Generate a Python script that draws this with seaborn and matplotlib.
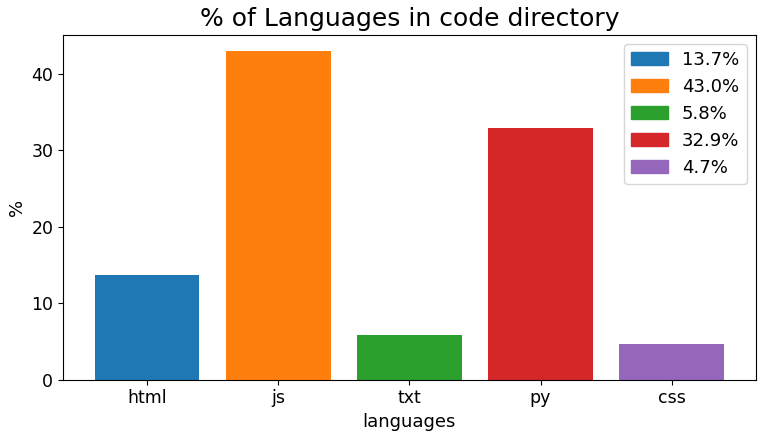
import pandas as pd
import matplotlib
matplotlib.use("Agg")
import matplotlib.pyplot as plt
import seaborn as sns

# data
languages = ["html", "js", "txt", "py", "css"]
percents = [13.7, 43.0, 5.8, 32.9, 4.7]
legend_labels = ["13.7%", "43.0%", "5.8%", "32.9%", "4.7%"]

df = pd.DataFrame({"languages": languages, "%": percents})

fig, ax = plt.subplots(figsize=(7.63, 4.37), dpi=100)
sns.barplot(data=df, x="languages", y="%", hue="languages",
            palette="tab10", dodge=False, width=0.8, saturation=1,
            legend=False, ax=ax)

colors = sns.color_palette("tab10", len(languages))
handles = [plt.Rectangle((0, 0), 1, 1, color=c) for c in colors]
ax.legend(handles, legend_labels, fontsize=13, loc="upper right")

ax.set_title("% of Languages in code directory", fontsize=18)
ax.set_xlabel("languages", fontsize=13)
ax.set_ylabel("%", fontsize=13)
ax.tick_params(axis="both", labelsize=12.5)
ax.set_xlim(-0.64, 4.64)
ax.set_ylim(0, 45.15)

plt.subplots_adjust(left=0.0826, right=0.9904, top=0.9206, bottom=0.131)
plt.savefig("out.png", dpi=100)
